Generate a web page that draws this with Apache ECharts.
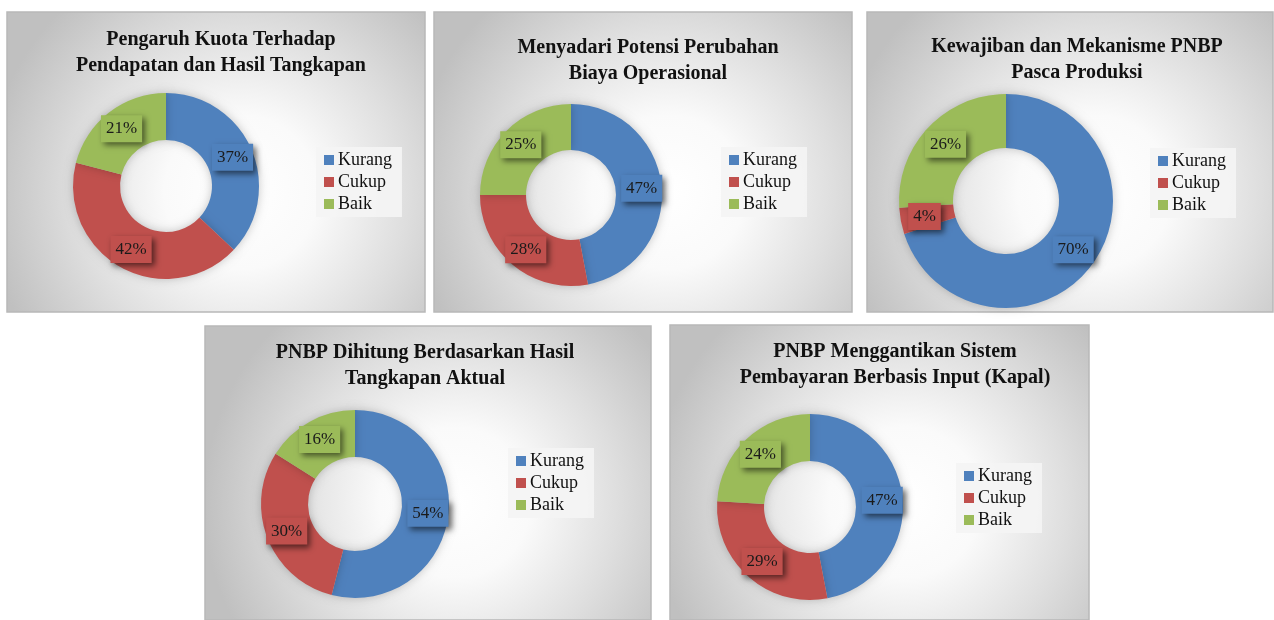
<!DOCTYPE html>
<html>
<head>
<meta charset="utf-8">
<script src="https://cdn.jsdelivr.net/npm/echarts@6/dist/echarts.min.js"></script>
<style>
  html, body { margin: 0; padding: 0; background: #fff; }
  #main { width: 1274px; height: 620px; }
</style>
</head>
<body>
<div id="main"></div>
<script>
// kategori jawaban
var categories = ['Kurang', 'Cukup', 'Baik'];
var colors = ['#4F81BD', '#C0504D', '#9BBB59'];

// judul tiap panel
var titles = [
    'Pengaruh Kuota Terhadap\nPendapatan dan Hasil Tangkapan',
    'Menyadari Potensi Perubahan\nBiaya Operasional',
    'Kewajiban dan Mekanisme PNBP\nPasca Produksi',
    'PNBP Dihitung Berdasarkan Hasil\nTangkapan Aktual',
    'PNBP Menggantikan Sistem\nPembayaran Berbasis Input (Kapal)'
];

// persentase (Kurang, Cukup, Baik)
var pengaruhKuota = [37, 42, 21];
var biayaOperasional = [47, 28, 25];
var pascaProduksi = [70, 4, 26];
var hasilAktual = [54, 30, 16];
var berbasisInput = [47, 29, 24];
var values = [pengaruhKuota, biayaOperasional, pascaProduksi, hasilAktual, berbasisInput];

// layout panel: kotak, pusat donat, radius, legenda, judul
var panels = [
    {x: 7,   y: 12,  w: 418, h: 300, cx: 166,  cy: 186, r0: 46, r: 93,  lx: 316,  ly: 147, tx: 216,  ty: 22},
    {x: 434, y: 12,  w: 418, h: 300, cx: 571,  cy: 195, r0: 45, r: 91,  lx: 721,  ly: 147, tx: 643,  ty: 30},
    {x: 867, y: 12,  w: 406, h: 300, cx: 1006, cy: 201, r0: 53, r: 107, lx: 1150, ly: 148, tx: 1072, ty: 29},
    {x: 205, y: 326, w: 446, h: 294, cx: 355,  cy: 504, r0: 47, r: 94,  lx: 508,  ly: 448, tx: 420,  ty: 335},
    {x: 670, y: 325, w: 419, h: 295, cx: 810,  cy: 507, r0: 46, r: 93,  lx: 956,  ly: 463, tx: 890,  ty: 334}
];

var FONT = '"Liberation Serif", "DejaVu Serif", serif';

var chart = echarts.init(document.getElementById('main'));

var graphics = [], titleList = [], legendList = [], seriesList = [];

panels.forEach(function (p, i) {
    // latar panel (gradasi radial)
    graphics.push({
        type: 'rect',
        z: -10,
        shape: {x: p.x, y: p.y, width: p.w, height: p.h},
        style: {
            fill: new echarts.graphic.RadialGradient(0.56, 0.6, 0.85, [
                {offset: 0, color: '#ffffff'},
                {offset: 0.3, color: '#fafafa'},
                {offset: 0.65, color: '#dedede'},
                {offset: 1, color: '#c0c0c0'}
            ]),
            stroke: '#b8b8b8',
            lineWidth: 1.5
        }
    });

    titleList.push({
        text: titles[i],
        left: p.tx,
        top: p.ty,
        textAlign: 'center',
        textStyle: {
            fontFamily: FONT,
            fontWeight: 'bold',
            fontSize: 20,
            lineHeight: 26,
            color: '#111'
        }
    });

    legendList.push({
        data: categories,
        orient: 'vertical',
        left: p.lx,
        top: p.ly,
        icon: 'rect',
        itemWidth: 10,
        itemHeight: 10,
        itemGap: 4,
        padding: [4, 10, 4, 8],
        backgroundColor: 'rgba(244,244,244,0.92)',
        selectedMode: false,
        textStyle: {fontFamily: FONT, fontSize: 18, color: '#111', padding: [0, 0, 0, -1]}
    });

    var data = values[i].map(function (v, k) {
        return {
            name: categories[k],
            value: v,
            itemStyle: {color: colors[k]},
            label: {backgroundColor: colors[k]}
        };
    });

    seriesList.push({
        type: 'pie',
        center: [p.cx, p.cy],
        radius: [p.r0, p.r],
        startAngle: 90,
        clockwise: true,
        silent: true,
        avoidLabelOverlap: false,
        itemStyle: {
            shadowBlur: 10,
            shadowColor: 'rgba(0,0,0,0.22)'
        },
        label: {
            show: true,
            position: 'inside',
            formatter: '{c}%',
            fontFamily: FONT,
            fontSize: 17,
            color: '#1a1a1a',
            padding: [6, 5, 4, 5],
            shadowBlur: 6,
            shadowOffsetX: 3,
            shadowOffsetY: 3,
            shadowColor: 'rgba(0,0,0,0.55)'
        },
        labelLine: {show: false},
        data: data
    });
});

chart.setOption({
    animation: false,
    color: colors,
    graphic: graphics,
    title: titleList,
    legend: legendList,
    series: seriesList
});
</script>
</body>
</html>
